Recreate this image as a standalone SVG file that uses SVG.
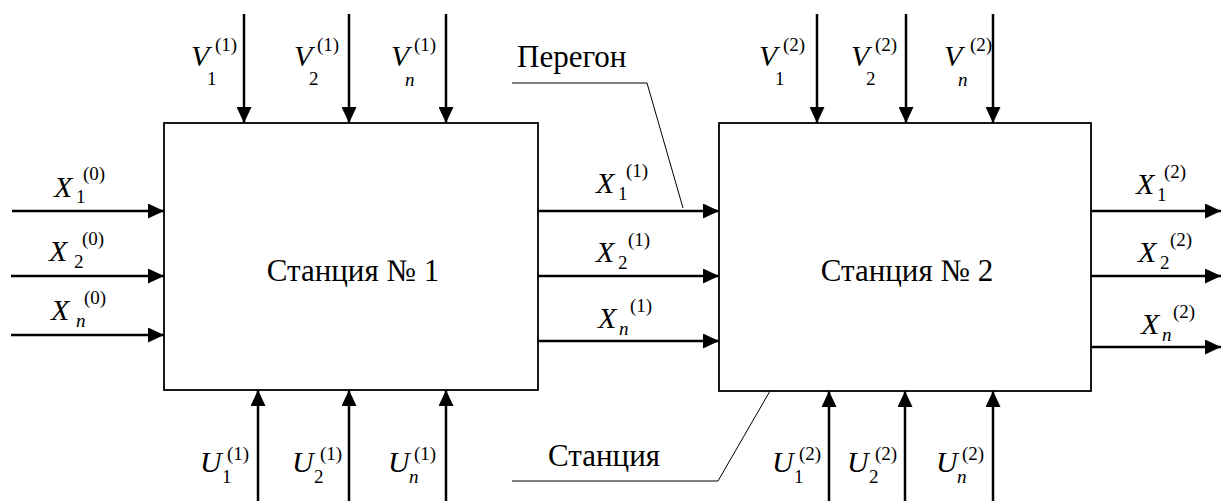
<svg xmlns="http://www.w3.org/2000/svg" width="1221" height="501" viewBox="0 0 1221 501" font-family="'Liberation Serif', 'Times New Roman', Tinos, serif">
<defs>
<marker id="ah" markerUnits="userSpaceOnUse" markerWidth="16" markerHeight="15" refX="16" refY="7.5" orient="auto"><path d="M0,0 L16,7.5 L0,15 z" fill="#000"/></marker>
</defs>
<rect width="1221" height="501" fill="#fff"/>
<g id="station1">
<rect x="164" y="123" width="374" height="267" fill="#fff" stroke="#000" stroke-width="1.8"/>
<text x="353" y="281" text-anchor="middle" font-family="'Liberation Serif', 'Times New Roman', serif" font-size="31">Станция № 1</text>
</g>
<g id="station2">
<rect x="719" y="123" width="372" height="268" fill="#fff" stroke="#000" stroke-width="1.8"/>
<text x="907" y="281" text-anchor="middle" font-family="'Liberation Serif', 'Times New Roman', serif" font-size="31">Станция № 2</text>
</g>
<g id="connectors" fill="none" stroke="#000" stroke-width="2.5" marker-end="url(#ah)">
<path d="M244,14 V123"/>
<path d="M349,14 V123"/>
<path d="M446,14 V123"/>
<path d="M817,14 V123"/>
<path d="M906,14 V123"/>
<path d="M993,14 V123"/>
<path d="M258,501 V390"/>
<path d="M349,501 V390"/>
<path d="M446,501 V390"/>
<path d="M829,501 V391"/>
<path d="M905,501 V391"/>
<path d="M993,501 V391"/>
<path d="M12,211 H164"/>
<path d="M11,276 H164"/>
<path d="M11,335 H164"/>
<path d="M538,211 H719"/>
<path d="M538,276 H719"/>
<path d="M538,341 H719"/>
<path d="M1091,211 H1221"/>
<path d="M1091,276 H1221"/>
<path d="M1091,347 H1221"/>
</g>
<g id="callout-peregon">
<text x="517" y="67" font-family="'Liberation Serif', 'Times New Roman', serif" font-size="31">Перегон</text>
<path d="M512,83 H647 L683,208" fill="none" stroke="#000" stroke-width="1"/>
</g>
<g id="callout-stanciya">
<text x="548" y="466" font-family="'Liberation Serif', 'Times New Roman', serif" font-size="31">Станция</text>
<path d="M512,481 H718 L770,391" fill="none" stroke="#000" stroke-width="1"/>
</g>
<g id="labels-v" font-family="'Liberation Serif', 'Times New Roman', serif" font-size="19">
<text><tspan font-style="italic" font-size="30" x="191" y="66">V</tspan><tspan x="207" y="85">1</tspan><tspan x="215" y="51">(1)</tspan></text>
<text><tspan font-style="italic" font-size="30" x="294" y="66">V</tspan><tspan x="309" y="85">2</tspan><tspan x="317" y="51">(1)</tspan></text>
<text><tspan font-style="italic" font-size="30" x="391" y="66">V</tspan><tspan font-style="italic" x="405" y="86">n</tspan><tspan x="414" y="51">(1)</tspan></text>
<text><tspan font-style="italic" font-size="30" x="759" y="66">V</tspan><tspan x="775" y="85">1</tspan><tspan x="783" y="51">(2)</tspan></text>
<text><tspan font-style="italic" font-size="30" x="851" y="66">V</tspan><tspan x="866" y="85">2</tspan><tspan x="875" y="51">(2)</tspan></text>
<text><tspan font-style="italic" font-size="30" x="944" y="66">V</tspan><tspan font-style="italic" x="958" y="86">n</tspan><tspan x="970" y="51">(2)</tspan></text>
</g>
<g id="labels-u" font-family="'Liberation Serif', 'Times New Roman', serif" font-size="19">
<text><tspan font-style="italic" font-size="30" x="200" y="472">U</tspan><tspan x="222" y="483">1</tspan><tspan x="227" y="460">(1)</tspan></text>
<text><tspan font-style="italic" font-size="30" x="292" y="472">U</tspan><tspan x="314" y="483">2</tspan><tspan x="320" y="460">(1)</tspan></text>
<text><tspan font-style="italic" font-size="30" x="388" y="472">U</tspan><tspan font-style="italic" x="409" y="483">n</tspan><tspan x="414" y="460">(1)</tspan></text>
<text><tspan font-style="italic" font-size="30" x="772" y="472">U</tspan><tspan x="794" y="483">1</tspan><tspan x="799" y="460">(2)</tspan></text>
<text><tspan font-style="italic" font-size="30" x="847" y="472">U</tspan><tspan x="869" y="483">2</tspan><tspan x="875" y="460">(2)</tspan></text>
<text><tspan font-style="italic" font-size="30" x="936" y="472">U</tspan><tspan font-style="italic" x="957" y="483">n</tspan><tspan x="962" y="460">(2)</tspan></text>
</g>
<g id="labels-x" font-family="'Liberation Serif', 'Times New Roman', serif" font-size="19">
<text><tspan font-style="italic" font-size="30" x="54" y="197">X</tspan><tspan x="76" y="203">1</tspan><tspan x="83" y="180">(0)</tspan></text>
<text><tspan font-style="italic" font-size="30" x="49" y="261">X</tspan><tspan x="74" y="268">2</tspan><tspan x="82" y="245">(0)</tspan></text>
<text><tspan font-style="italic" font-size="30" x="51" y="320">X</tspan><tspan font-style="italic" x="76" y="327">n</tspan><tspan x="84" y="304">(0)</tspan></text>
<text><tspan font-style="italic" font-size="30" x="596" y="193">X</tspan><tspan x="618" y="200">1</tspan><tspan x="626" y="177">(1)</tspan></text>
<text><tspan font-style="italic" font-size="30" x="596" y="262">X</tspan><tspan x="618" y="269">2</tspan><tspan x="628" y="246">(1)</tspan></text>
<text><tspan font-style="italic" font-size="30" x="598" y="328">X</tspan><tspan font-style="italic" x="619" y="335">n</tspan><tspan x="630" y="312">(1)</tspan></text>
<text><tspan font-style="italic" font-size="30" x="1136" y="194">X</tspan><tspan x="1157" y="201">1</tspan><tspan x="1164" y="178">(2)</tspan></text>
<text><tspan font-style="italic" font-size="30" x="1138" y="262">X</tspan><tspan x="1160" y="269">2</tspan><tspan x="1170" y="246">(2)</tspan></text>
<text><tspan font-style="italic" font-size="30" x="1141" y="334">X</tspan><tspan font-style="italic" x="1162" y="341">n</tspan><tspan x="1173" y="318">(2)</tspan></text>
</g>
</svg>
